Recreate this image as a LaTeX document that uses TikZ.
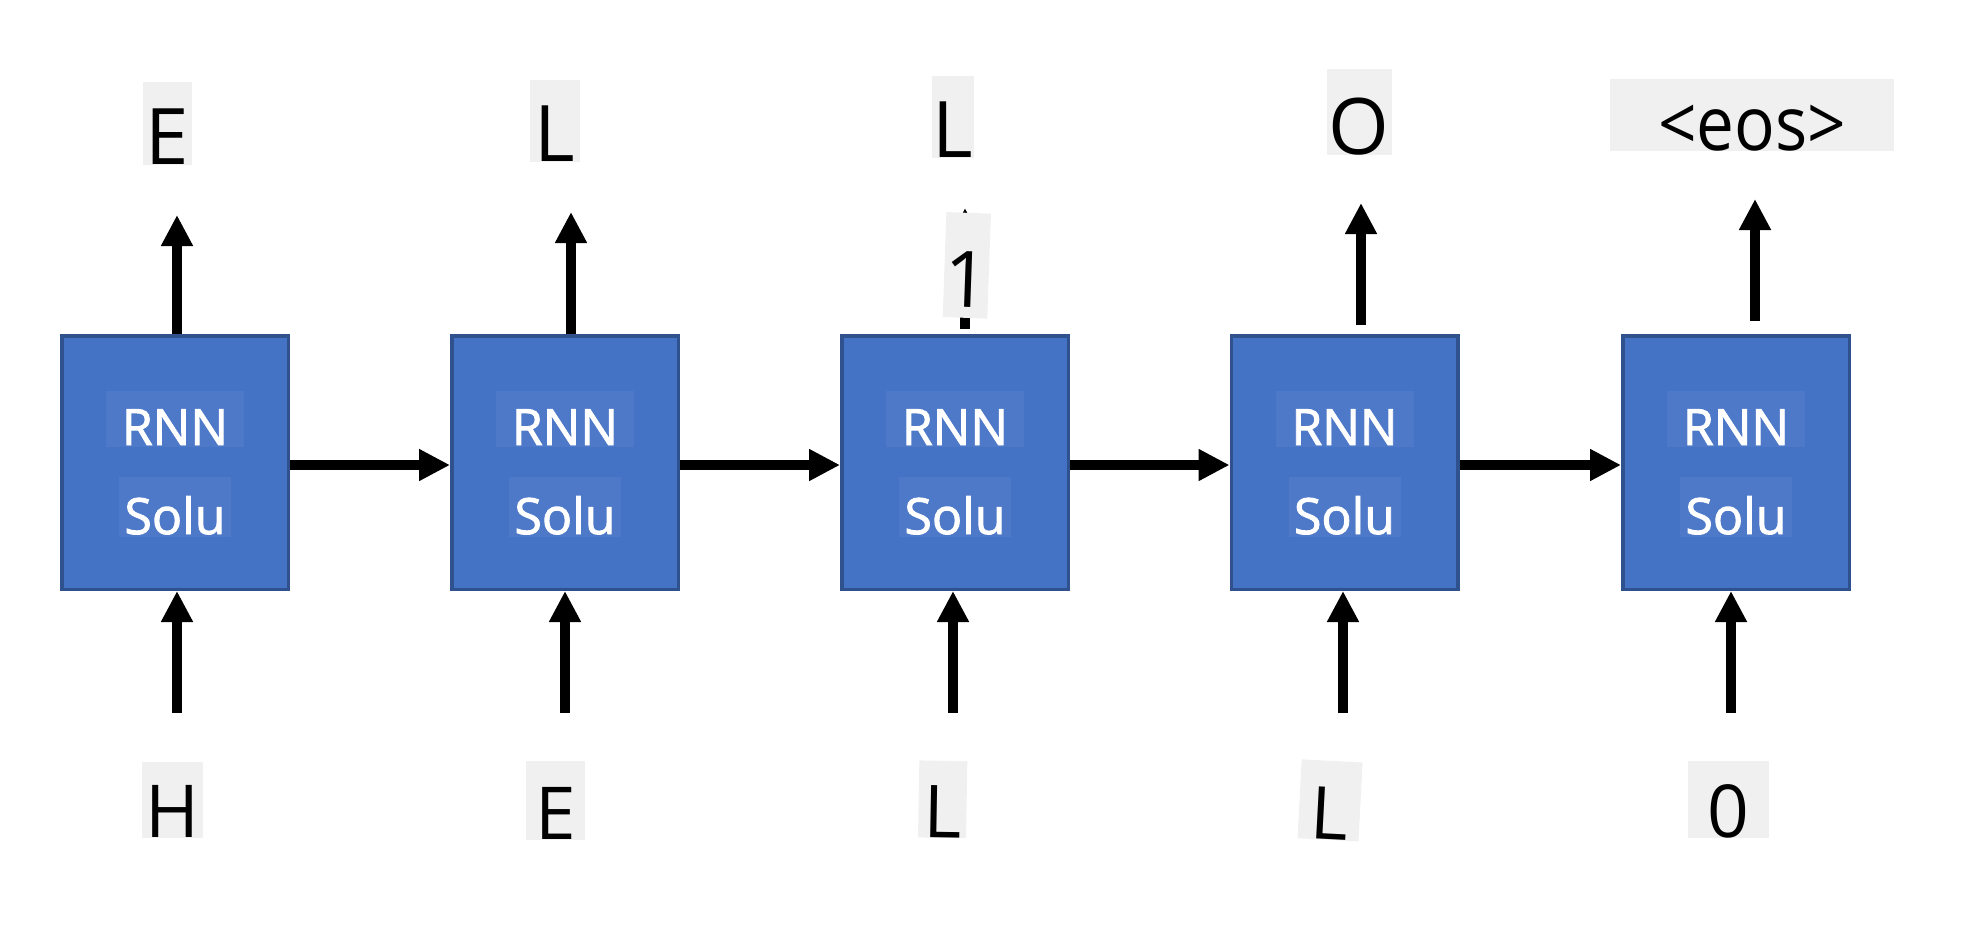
\documentclass[tikz,border=0pt]{standalone}
\usepackage{fontspec}
\setmainfont{Open Sans}
\newfontfamily\boxfont{Open Sans}[UprightFeatures={FakeBold=1.8}]
\usetikzlibrary{arrows.meta}
\definecolor{boxfill}{HTML}{4472C4}
\definecolor{boxline}{HTML}{2F528F}
\definecolor{inbg}{HTML}{4E79C8}
\definecolor{lbg}{HTML}{F0F0F0}
\begin{document}
\begin{tikzpicture}[x=1pt,y=-1pt,
  rnnbox/.style={draw=boxline, fill=boxfill, line width=3.5pt, minimum width=226.5pt, minimum height=253.5pt, inner sep=0pt},
  inlab/.style={fill=inbg, text=white, inner sep=0pt, font=\boxfont\fontsize{50}{60}\selectfont},
  rnnlab/.style={inlab, minimum width=138pt, text height=54pt, text depth=2pt},
  solulab/.style={inlab, minimum width=112pt, text height=57pt, text depth=3pt},
  toplab/.style={fill=lbg, inner sep=0pt, text depth=0pt, anchor=south, font=\fontsize{78}{90}\selectfont},
  botlab/.style={fill=lbg, inner sep=0pt, text depth=0pt, anchor=south, font=\fontsize{73}{85}\selectfont},
  arr/.style={line width=9.5pt, -{Triangle[length=31pt,width=30pt]}},
]
\useasboundingbox (0,0) rectangle (1978,938);

% boxes
\node[rnnbox] (b1) at (175,462.5) {};
\node[rnnbox] (b2) at (565,462.5) {};
\node[rnnbox] (b3) at (955,462.5) {};
\node[rnnbox] (b4) at (1344.5,462.5) {};
\node[rnnbox] (b5) at (1736,462.5) {};

% inner labels
\foreach \i in {1,...,5}{
  \node[rnnlab] (r\i) at ([yshift=43.5pt]b\i.center) {RNN};
  \node[solulab] (s\i) at ([yshift=-44.5pt]b\i.center) {Solu};
}

% recurrent arrows
\draw[arr] ([yshift=-2.5pt]b1.east) -- ([yshift=-2.5pt]b2.west);
\draw[arr] ([yshift=-2.5pt]b2.east) -- ([yshift=-2.5pt]b3.west);
\draw[arr] ([yshift=-2.5pt]b3.east) -- ([yshift=-2.5pt]b4.west);
\draw[arr] ([yshift=-2.5pt]b4.east) -- ([yshift=-2.5pt]b5.west);

% output arrows
\coordinate (ta1) at (177,215);
\coordinate (ta2) at (571,212);
\coordinate (ta3) at (965,208);
\coordinate (ta4) at (1361,203);
\coordinate (ta5) at (1755,199);
\draw[arr] (b1.north -| ta1) -- (ta1);
\draw[arr] (b2.north -| ta2) -- (ta2);
\draw[arr, shorten <=5pt] (b3.north -| ta3) -- (ta3);
\draw[arr, shorten <=9pt] (b4.north -| ta4) -- (ta4);
\draw[arr, shorten <=13pt] (b5.north -| ta5) -- (ta5);

% input arrows
\coordinate (ba1) at (177,713);
\coordinate (ba2) at (565,713);
\coordinate (ba3) at (953,713);
\coordinate (ba4) at (1343,713);
\coordinate (ba5) at (1731,713);
\foreach \i in {1,...,5}{
  \draw[arr] (ba\i) -- (b\i.south -| ba\i);
}

% output labels
\node[toplab, minimum width=49pt, text height=83pt] (oE) at (167,165) {E};
\node[toplab, minimum width=50pt, text height=82pt] (oL1) at (555,162) {L};
\node[toplab, minimum width=42pt, text height=82pt] (oL2) at (953,158) {L};
\node[toplab, minimum width=65pt, text height=86pt] (oO) at (1359,155) {O};
\node[toplab, minimum width=284pt, text height=72pt, font=\fontsize{75}{85}\selectfont] (oeos) at (1752,151) {\scalebox{0.9}[1]{<eos>}};
\node[toplab, minimum width=44pt, text height=94pt, text depth=11pt, rotate=-2] (one) at (965,318) {1};

% input labels
\node[botlab, minimum width=61pt, text height=76pt] (iH) at (172.5,838) {H};
\node[botlab, minimum width=59pt, text height=79pt] (iE) at (555.5,840) {E};
\node[botlab, minimum width=48pt, text height=77pt, rotate=-1] (iL1) at (942,838) {L};
\node[botlab, minimum width=61pt, text height=79pt, rotate=-3] (iL2) at (1328,840) {L};
\node[botlab, minimum width=81pt, text height=77pt] (i0) at (1728.5,838) {0};
\end{tikzpicture}
\end{document}
